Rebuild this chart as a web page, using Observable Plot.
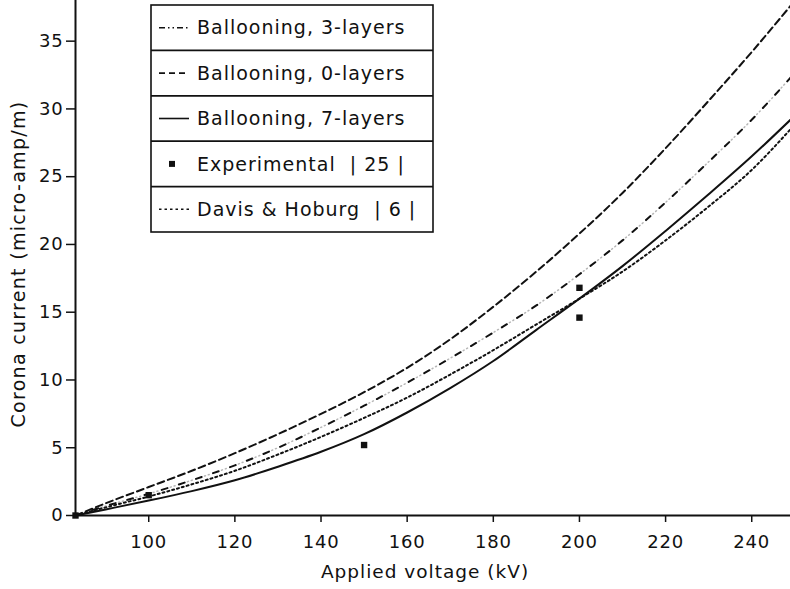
<!DOCTYPE html>
<html><head><meta charset="utf-8">
<script src="https://cdn.jsdelivr.net/npm/d3@7"></script>
<script src="https://cdn.jsdelivr.net/npm/@observablehq/plot@0.6"></script>
<style>body{margin:0;background:#fff} #chart{width:790px;height:589px}</style>
</head><body><div id="chart"></div>
<script>
const voltage     = [83, 90, 100, 110, 120, 130, 140, 150, 160, 170, 180, 190, 200, 210, 220, 230, 240, 249];
const layers0     = [0, 0.9, 2.1, 3.3, 4.6, 6.0, 7.5, 9.1, 10.9, 13.0, 15.4, 18.0, 20.8, 23.8, 27.1, 30.6, 34.2, 37.6];
const layers3     = [0, 0.7, 1.6, 2.6, 3.7, 5.0, 6.5, 8.1, 9.8, 11.6, 13.5, 15.5, 17.8, 20.3, 23.1, 26.1, 29.2, 32.3];
const layers7     = [0, 0.45, 1.1, 1.8, 2.6, 3.6, 4.7, 6.0, 7.6, 9.4, 11.4, 13.7, 16.0, 18.4, 21.0, 23.7, 26.5, 29.2];
const davisHoburg = [0, 0.6, 1.4, 2.3, 3.3, 4.5, 5.8, 7.2, 8.7, 10.4, 12.2, 14.1, 16.0, 18.0, 20.3, 22.8, 25.5, 28.5];
const expVoltage  = [83, 100, 150, 200, 200];
const expCurrent  = [0, 1.5, 5.2, 16.8, 14.6];
const xTicks = [100, 120, 140, 160, 180, 200, 220, 240];
const yTicks = [0, 5, 10, 15, 20, 25, 30, 35];
const xTitle = "Applied voltage (kV)";
const yTitle = "Corona current (micro-amp/m)";
const legendLabels = ["Ballooning, 3-layers", "Ballooning, 0-layers", "Ballooning, 7-layers", "Experimental  | 25 |", "Davis & Hoburg  | 6 |"];

const toRows = (vals) => voltage.map((v, i) => ({v, i: vals[i]}));
const expRows = expVoltage.map((v, k) => ({v, i: expCurrent[k]}));
const FONT = "'DejaVu Sans', Verdana, sans-serif";

const chart = Plot.plot({
  width: 790, height: 589,
  marginLeft: 75, marginRight: 0, marginTop: 0, marginBottom: 74,
  x: {domain: [83, 249]},
  y: {domain: [0, 38]},
  style: {fontFamily: FONT, fontSize: "18px", color: "#111", background: "#fff", letterSpacing: "0.8px"},
  marks: [
    Plot.axisX({ticks: xTicks, tickSize: 7, tickPadding: 13, strokeWidth: 1.5, label: null, fontSize: 18}),
    Plot.axisY({ticks: yTicks, tickSize: 9, tickPadding: 3, strokeWidth: 1.5, label: null, fontSize: 18}),
    Plot.ruleY([0], {stroke: "#111", strokeWidth: 2}),
    Plot.ruleX([83], {stroke: "#111", strokeWidth: 2}),
    Plot.line(toRows(layers0), {x: "v", y: "i", curve: "monotone-x", stroke: "#111", strokeWidth: 2, strokeDasharray: "7,4"}),
    Plot.line(toRows(layers3), {x: "v", y: "i", curve: "monotone-x", stroke: "#111", strokeWidth: 2, strokeDasharray: "6,12"}),
    Plot.line(toRows(layers3), {x: "v", y: "i", curve: "monotone-x", stroke: "#111", strokeOpacity: 0.3, strokeWidth: 1.5, strokeDasharray: "0,9,1,3,1,4"}),
    Plot.line(toRows(layers7), {x: "v", y: "i", curve: "monotone-x", stroke: "#111", strokeWidth: 2}),
    Plot.line(toRows(davisHoburg), {x: "v", y: "i", curve: "monotone-x", stroke: "#111", strokeWidth: 2, strokeDasharray: "2,3"}),
    Plot.dot(expRows, {x: "v", y: "i", symbol: "square", fill: "#111", stroke: "none", r: 3.6})
  ]
});
document.getElementById("chart").appendChild(chart);

const svg = d3.select(chart);
// Axis titles
svg.append("text").attr("x", 425).attr("y", 572).attr("dy", "0.35em").attr("text-anchor", "middle")
  .attr("font-family", FONT).attr("font-size", 18.5).attr("fill", "#111").style("letter-spacing", "1px").text(xTitle);
svg.append("text").attr("transform", "translate(18,264) rotate(-90)").attr("dy", "0.35em").attr("text-anchor", "middle")
  .attr("font-family", FONT).attr("font-size", 19).attr("fill", "#111").style("letter-spacing", "1.3px").text(yTitle);

// Legend box drawn inside the plot area
const g = svg.append("g").attr("font-family", FONT).attr("font-size", 19).attr("fill", "#111").attr("text-anchor", "start").style("letter-spacing", "1px");
const bx = 151, by = 5, bw = 282, bh = 227, rowH = bh / legendLabels.length;
g.append("rect").attr("x", bx).attr("y", by).attr("width", bw).attr("height", bh)
  .attr("fill", "#fff").attr("stroke", "#111").attr("stroke-width", 1.6);
const samples = [
  {dash: "6,3,1.5,3,1.5,3"},
  {dash: "6,4"},
  {dash: null},
  {square: true},
  {dash: "2.5,3"}
];
legendLabels.forEach((lab, k) => {
  const cy = by + rowH * k + rowH / 2;
  if (k > 0) g.append("line").attr("x1", bx).attr("x2", bx + bw).attr("y1", by + rowH * k).attr("y2", by + rowH * k)
    .attr("stroke", "#111").attr("stroke-width", 1.8);
  const s = samples[k];
  if (s.square) {
    g.append("rect").attr("x", 169).attr("y", cy - 3).attr("width", 6).attr("height", 6).attr("fill", "#111");
  } else {
    const ln = g.append("line").attr("x1", 159).attr("x2", 189).attr("y1", cy).attr("y2", cy)
      .attr("stroke", "#111").attr("stroke-width", 1.6);
    if (s.dash) ln.attr("stroke-dasharray", s.dash);
  }
  g.append("text").attr("x", 197).attr("y", cy).attr("dy", "0.35em").style("white-space", "pre").text(lab);
});
</script></body></html>
